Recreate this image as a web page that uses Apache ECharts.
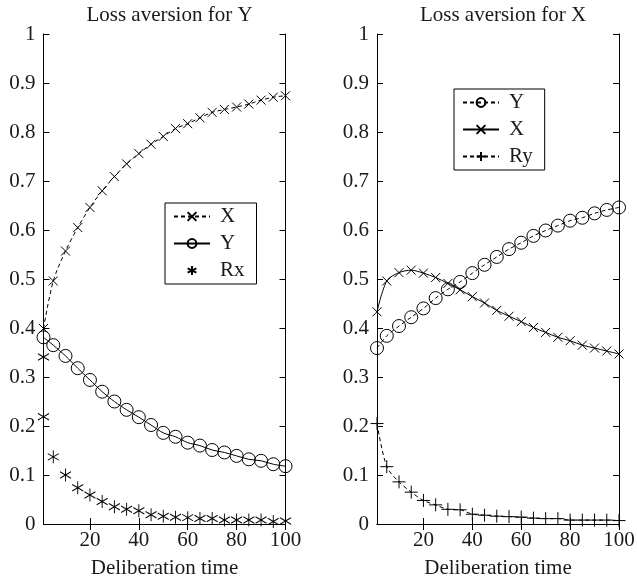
<!DOCTYPE html>
<html>
<head>
<meta charset="utf-8">
<script src="https://cdn.jsdelivr.net/npm/echarts@6/dist/echarts.min.js"></script>
<style>
    html, body { margin: 0; padding: 0; background: #fff; }
    #wrap { position: relative; width: 637px; height: 584px; }
    #left { position: absolute; left: 0; top: 0; width: 318px; height: 584px; }
    #right { position: absolute; left: 318px; top: 0; width: 319px; height: 584px; }
</style>
</head>
<body>
<div id="wrap"><div id="left"></div><div id="right"></div></div>
<script>
// deliberation time, one marker every 5 steps
const time = [1, 5, 10, 15, 20, 25, 30, 35, 40, 45, 50, 55, 60, 65, 70, 75, 80, 85, 90, 95, 100];
const xTicks = [20, 40, 60, 80, 100];

// left panel: loss aversion for Y
const leftX = [0.399, 0.496, 0.557, 0.605, 0.646, 0.680, 0.709, 0.735, 0.756, 0.775, 0.791,
    0.807, 0.817, 0.829, 0.840, 0.846, 0.851, 0.857, 0.865, 0.871, 0.874];
const leftY = [0.381, 0.365, 0.343, 0.318, 0.294, 0.270, 0.250, 0.233, 0.218, 0.202, 0.186,
    0.178, 0.166, 0.160, 0.151, 0.146, 0.139, 0.132, 0.129, 0.122, 0.118];
// Rx has two points at the first step
const rxTime = [1].concat(time);
const leftRx = [0.341, 0.219, 0.137, 0.100, 0.074, 0.059, 0.046, 0.035, 0.030, 0.027, 0.019,
    0.016, 0.014, 0.013, 0.011, 0.011, 0.008, 0.008, 0.008, 0.008, 0.005, 0.006];

// right panel: loss aversion for X
const rightY = [0.359, 0.384, 0.404, 0.422, 0.440, 0.461, 0.479, 0.494, 0.512, 0.529, 0.545,
    0.561, 0.574, 0.588, 0.599, 0.609, 0.619, 0.625, 0.634, 0.641, 0.646];
const rightX = [0.433, 0.496, 0.513, 0.518, 0.512, 0.503, 0.491, 0.478, 0.464, 0.451, 0.436,
    0.424, 0.413, 0.401, 0.391, 0.381, 0.374, 0.365, 0.359, 0.353, 0.347];
const rightRy = [0.205, 0.117, 0.086, 0.065, 0.048, 0.039, 0.030, 0.029, 0.020, 0.018, 0.016,
    0.015, 0.014, 0.012, 0.011, 0.011, 0.008, 0.008, 0.008, 0.008, 0.007];

const FONT = 'Liberation Serif';
const FS = 21;
const INK = '#000';
const TEXT = '#1a1a1a';
const CROSS = 'path://M0,0L10,10M0,10L10,0';
const STAR = 'path://M5,0L5,12M0,3L10,9M0,9L10,3';
const PLUS = 'path://M5,0L5,10M0,5L10,5';
const DASH = [4, 3];

function zip(xs, ys) {
    return ys.map((v, i) => [xs[i], v]);
}

function lineSeries(name, xs, ys, symbol, size, dashed, noLine) {
    return {
        name: name,
        type: 'line',
        data: zip(xs, ys),
        symbol: symbol,
        symbolSize: size,
        smooth: 0.3,
        lineStyle: { color: INK, width: noLine ? 0 : 1, type: dashed ? DASH : 'solid' },
        itemStyle: { color: 'none', borderColor: INK, borderWidth: 1 },
        emphasis: { disabled: true }
    };
}

function makeOption(title, gridLeft, legendPos, series) {
    // keep the plot box fixed, labels may sit outside it
    const grid = { left: gridLeft, top: 34, width: 242, height: 490, outerBoundsMode: 'none' };
    const xBase = {
        type: 'value', min: 1, max: 100,
        splitLine: { show: false },
        axisLine: { lineStyle: { color: INK, width: 1 } },
        axisTick: { inside: true, length: 6, customValues: xTicks, lineStyle: { color: INK } }
    };
    const yBase = {
        type: 'value', min: 0, max: 1, interval: 0.1,
        splitLine: { show: false },
        axisLine: { lineStyle: { color: INK, width: 1 } },
        axisTick: { inside: true, length: 6, lineStyle: { color: INK } }
    };
    return {
        animation: false,
        textStyle: { fontFamily: FONT },
        title: {
            text: title,
            left: gridLeft + 121, top: 0, textAlign: 'center',
            textStyle: { fontFamily: FONT, fontSize: FS, fontWeight: 'normal', color: TEXT }
        },
        legend: {
            orient: 'vertical',
            left: legendPos[0], top: legendPos[1],
            itemWidth: 36, itemHeight: 11, itemGap: 6,
            padding: [3, 12, 3, 8],
            borderColor: INK, borderWidth: 1,
            selectedMode: false,
            textStyle: { fontFamily: FONT, fontSize: FS, color: TEXT, padding: [0, 0, 0, 5] },
            data: series.map(s => s.name)
        },
        grid: grid,
        xAxis: [
            Object.assign({}, xBase, {
                position: 'bottom',
                name: 'Deliberation time', nameLocation: 'middle', nameGap: 34,
                nameTextStyle: { fontFamily: FONT, fontSize: FS, color: TEXT },
                axisLabel: { customValues: xTicks, margin: 6, fontFamily: FONT, fontSize: FS, color: TEXT }
            }),
            Object.assign({}, xBase, { position: 'top', axisLabel: { show: false } })
        ],
        yAxis: [
            Object.assign({}, yBase, {
                position: 'left',
                axisLabel: { margin: 8, fontFamily: FONT, fontSize: FS, color: TEXT }
            }),
            Object.assign({}, yBase, { position: 'right', axisLabel: { show: false } })
        ],
        series: series
    };
}

let leftChart = echarts.init(document.getElementById('left'));
let option = makeOption('Loss aversion for Y', 43.5, [165, 203], [
    lineSeries('X', time, leftX, CROSS, 9, true, false),
    lineSeries('Y', time, leftY, 'circle', 13, false, false),
    lineSeries('Rx', rxTime, leftRx, STAR, [11, 13], false, true)
]);
option && leftChart.setOption(option);

let rightChart = echarts.init(document.getElementById('right'));
option = makeOption('Loss aversion for X', 59, [136, 89], [
    lineSeries('Y', time, rightY, 'circle', 13, true, false),
    lineSeries('X', time, rightX, CROSS, 9, false, false),
    lineSeries('Ry', time, rightRy, PLUS, 13, true, false)
]);
option && rightChart.setOption(option);
</script>
</body>
</html>
